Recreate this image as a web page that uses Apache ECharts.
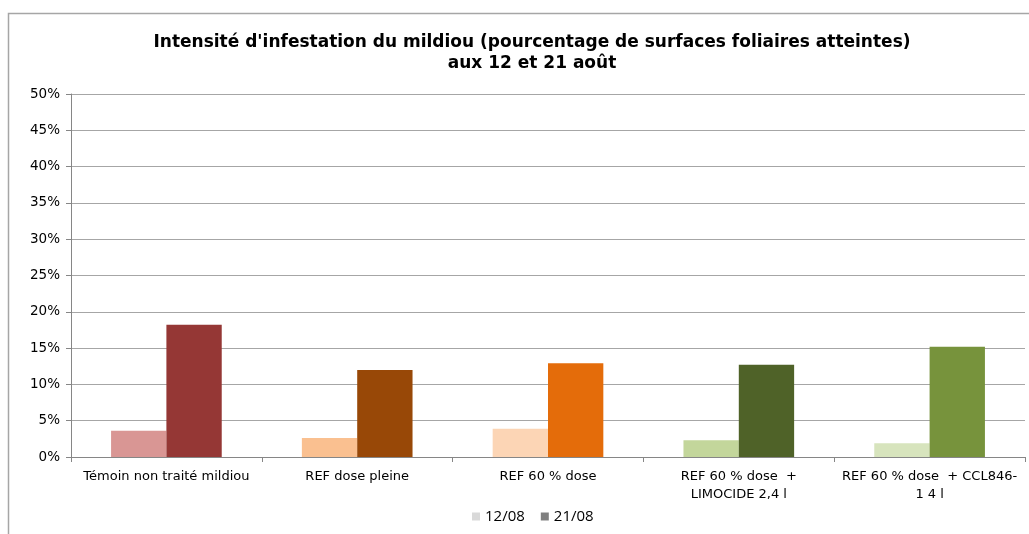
<!DOCTYPE html>
<html>
<head>
<meta charset="utf-8">
<script src="https://cdn.jsdelivr.net/npm/echarts@6/dist/echarts.min.js"></script>
<style>html,body{margin:0;padding:0;background:#fff}#c{width:1029px;height:534px}</style>
</head>
<body>
<div id="c"></div>
<script>
const categories = ["Témoin non traité mildiou", "REF dose pleine", "REF 60 % dose", "REF 60 % dose  +\nLIMOCIDE 2,4 l", "REF 60 % dose  + CCL846-\n1 4 l"];
const seriesNames = ["12/08", "21/08"];
const values1208 = [3.6, 2.6, 3.9, 2.3, 1.9];
const values2108 = [18.2, 12.0, 12.9, 12.7, 15.2];
const colors1208 = ["#D99694", "#FAC090", "#FCD5B5", "#C3D69B", "#D7E4BD"];
const colors2108 = ["#953735", "#984807", "#E46C0A", "#4F6228", "#77933C"];
const legendColors = ["#D9D9D9", "#808080"];
const yTicks = { min: 0, max: 50, interval: 5 };

const chart = echarts.init(document.getElementById('c'), null, {renderer: 'canvas'});
const font = '"DejaVu Sans", sans-serif';
chart.setOption({
  animation: false,
  backgroundColor: '#fff',
  graphic: [{
    type: 'rect', shape: {x: 8.5, y: 13.5, width: 1040, height: 540},
    style: {fill: 'none', stroke: '#A6A6A6', lineWidth: 1.5}, silent: true, z: -1
  }],
  title: {
    text: "Intensité d'infestation du mildiou (pourcentage de surfaces foliaires atteintes)\naux 12 et 21 août",
    left: 527, top: 27, textAlign: 'center',
    textStyle: {fontFamily: font, fontSize: 17, fontWeight: 'bold', color: '#000', lineHeight: 21}
  },
  legend: {
    bottom: 5, left: 467, itemWidth: 8, itemHeight: 8, itemGap: 16,
    icon: 'rect',
    textStyle: {fontFamily: '"Open Sans", "Noto Sans", sans-serif', fontSize: 15, color: '#000'},
    data: seriesNames
  },
  grid: {left: 71, right: 4, top: 94, bottom: 77, containLabel: false},
  xAxis: {
    type: 'category', data: categories, boundaryGap: true,
    axisLine: {lineStyle: {color: '#868686', width: 1}},
    axisTick: {show: true, length: 5, lineStyle: {color: '#868686'}},
    axisLabel: {interval: 0, fontFamily: font, fontSize: 13, color: '#000', margin: 11, lineHeight: 18}
  },
  yAxis: {
    type: 'value', min: yTicks.min, max: yTicks.max, interval: yTicks.interval,
    axisLine: {show: true, lineStyle: {color: '#868686'}},
    axisTick: {show: true, length: 5, lineStyle: {color: '#868686'}},
    axisLabel: {formatter: '{value}%', fontFamily: font, fontSize: 13.5, color: '#000', margin: 11},
    splitLine: {lineStyle: {color: '#A6A6A6', width: 1}}
  },
  series: [
    {
      name: seriesNames[0], type: 'bar', barGap: '0%', barCategoryGap: '42%',
      itemStyle: {color: legendColors[0]},
      data: values1208.map((v, i) => ({value: v, itemStyle: {color: colors1208[i]}}))
    },
    {
      name: seriesNames[1], type: 'bar', barGap: '0%', barCategoryGap: '42%',
      itemStyle: {color: legendColors[1]},
      data: values2108.map((v, i) => ({value: v, itemStyle: {color: colors2108[i]}}))
    }
  ]
});
</script>
</body>
</html>
